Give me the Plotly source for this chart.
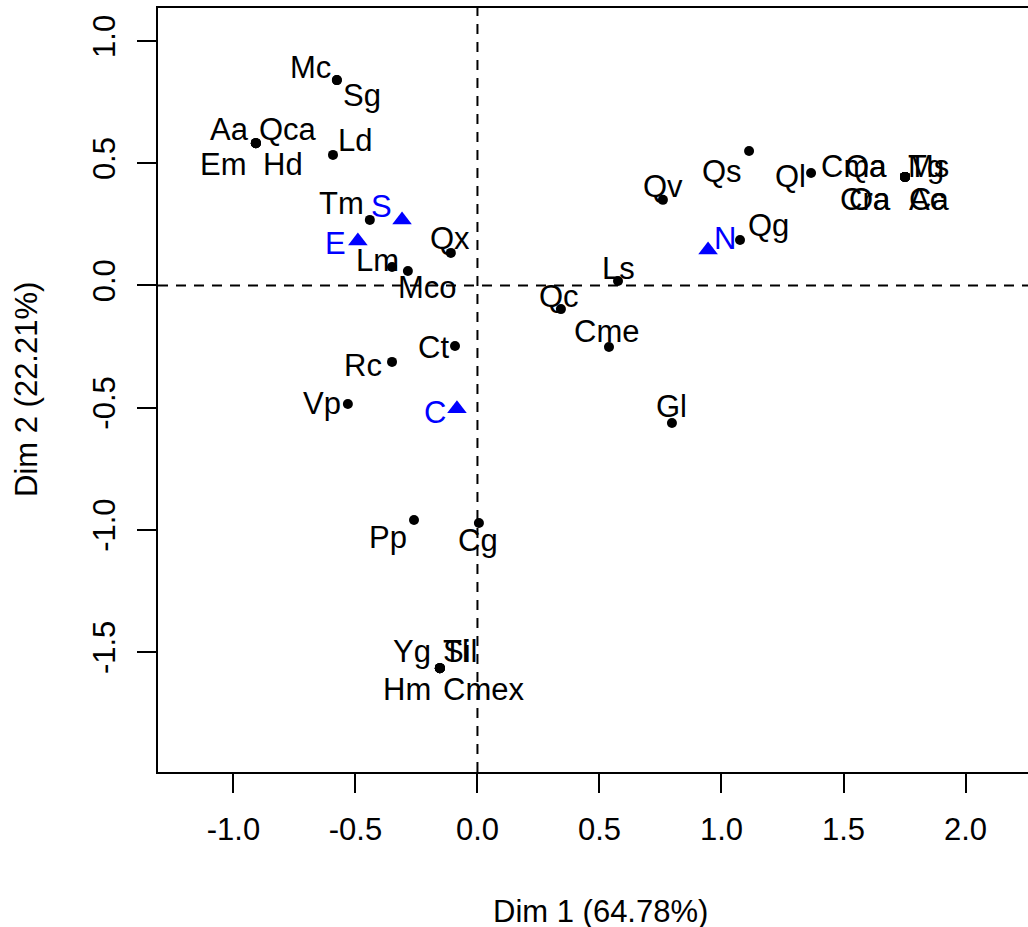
import plotly.graph_objects as go

# ---------------- data ----------------
row_names = ["Mc", "Sg", "Aa", "Qca", "Em", "Hd", "Ld", "Tm", "Qx", "Lm", "Mco",
             "Ct", "Rc", "Vp", "Pp", "Cg", "Yg", "Sil", "Tl", "Hm", "Cmex",
             "Qc", "Cme", "Ls", "Gl", "Qv", "Qs", "Ql", "Qg",
             "Cma", "Qa", "Ms", "Tg", "Cra", "Oa", "Ac", "Ca"]
row_dim1 = [-0.576, -0.576, -0.908, -0.908, -0.908, -0.908, -0.592, -0.441, -0.109, -0.350, -0.285,
            -0.092, -0.350, -0.531, -0.260, 0.006, -0.154, -0.154, -0.154, -0.154, -0.154,
            0.342, 0.539, 0.576, 0.797, 0.760, 1.113, 1.367, 1.076,
            1.752, 1.752, 1.752, 1.752, 1.752, 1.752, 1.752, 1.752]
row_dim2 = [0.840, 0.840, 0.582, 0.582, 0.582, 0.582, 0.534, 0.268, 0.133, 0.075, 0.059,
            -0.248, -0.313, -0.485, -0.960, -0.972, -1.566, -1.566, -1.566, -1.566, -1.566,
            -0.097, -0.252, 0.018, -0.563, 0.350, 0.550, 0.460, 0.186,
            0.444, 0.444, 0.444, 0.444, 0.444, 0.444, 0.444, 0.444]

col_names = ["S", "E", "N", "C"]
col_dim1 = [-0.309, -0.490, 0.945, -0.084]
col_dim2 = [0.268, 0.182, 0.145, -0.505]

x_tick_vals = [-1.0, -0.5, 0.0, 0.5, 1.0, 1.5, 2.0]
x_tick_text = ["-1.0", "-0.5", "0.0", "0.5", "1.0", "1.5", "2.0"]
y_tick_vals = [-1.5, -1.0, -0.5, 0.0, 0.5, 1.0]
y_tick_text = ["-1.5", "-1.0", "-0.5", "0.0", "0.5", "1.0"]
x_title = "Dim 1 (64.78%)"
y_title = "Dim 2 (22.21%)"

# ---------------- style ----------------
FONT = "Liberation Sans, Arial, sans-serif"
FS = 31
BLUE = "#0000FF"
W, H = 1028, 927
L, R, T, B = 158, 0, 8, 155

# label placement around each point: (xanchor, dx px, dy px down)
label_style = {
    "Mc": ("right", -5, -13), "Sg": ("left", 5, 15),
    "Aa": ("right", -6, -14), "Qca": ("left", 2, -14),
    "Em": ("right", -8, 21), "Hd": ("left", 6, 21),
    "Ld": ("left", 4, -14), "Tm": ("right", -5, -16),
    "Qx": ("center", -1, -14), "Lm": ("right", 8, -7),
    "Mco": ("left", -11, 17), "Ct": ("right", -5, 1),
    "Rc": ("right", -9, 4), "Vp": ("right", -6, 0),
    "Pp": ("right", -6, 17), "Cg": ("center", -1, 18),
    "Yg": ("right", -8, -17), "Sil": ("left", 2, -17), "Tl": ("left", 2, -17),
    "Hm": ("right", -8, 21), "Cmex": ("left", 2, 21),
    "Qc": ("center", -2, -13), "Cme": ("center", -2, -15),
    "Ls": ("center", 0, -13), "Gl": ("center", 0, -16),
    "Qv": ("center", 0, -13), "Qs": ("right", -6, 21),
    "Ql": ("right", -4, 4), "Qg": ("left", 7, -14),
    "Cma": ("right", -17, -10), "Qa": ("right", -17, -10),
    "Ms": ("left", 2, -10), "Tg": ("left", 2, -10),
    "Cra": ("right", -13, 23), "Oa": ("right", -13, 23),
    "Ac": ("left", 3, 23), "Ca": ("left", 3, 23),
    "S": ("right", -9, -13), "E": ("right", -11, 3),
    "N": ("left", 5, -11), "C": ("right", -10, 4),
}

fig = go.Figure()
fig.add_trace(go.Scatter(x=row_dim1, y=row_dim2, mode="markers",
                         marker=dict(size=10, color="black"),
                         text=row_names, hoverinfo="text", showlegend=False))
fig.add_trace(go.Scatter(x=col_dim1, y=col_dim2, mode="markers",
                         marker=dict(size=17, color=BLUE, symbol="triangle-up"),
                         text=col_names, hoverinfo="text", showlegend=False))

annotations = []
for names, xs, ys, color in [(row_names, row_dim1, row_dim2, "black"),
                             (col_names, col_dim1, col_dim2, BLUE)]:
    for n, xv, yv in zip(names, xs, ys):
        anc, dx, dy = label_style[n]
        annotations.append(dict(x=xv, y=yv, xref="x", yref="y", text=n,
                                showarrow=False, xanchor=anc, yanchor="middle",
                                xshift=dx, yshift=-dy, borderpad=0,
                                font=dict(family=FONT, size=FS, color=color)))

pw, ph = W - L - R, H - T - B
annotations.append(dict(x=(600 - L) / pw, y=(H - B - 911) / ph, xref="paper", yref="paper",
                        text=x_title, showarrow=False, xanchor="center", yanchor="middle",
                        borderpad=0,
                        font=dict(family=FONT, size=FS, color="black")))
annotations.append(dict(x=(26 - L) / pw, y=(H - B - 390) / ph, xref="paper", yref="paper",
                        text=y_title, showarrow=False, xanchor="center", yanchor="middle",
                        textangle=-90, borderpad=0,
                        font=dict(family=FONT, size=FS, color="black")))

fig.add_hline(y=0, line=dict(color="black", width=2, dash="10px,8px"))
fig.add_vline(x=0, line=dict(color="black", width=2, dash="10px,8px"))

axis_common = dict(showgrid=False, zeroline=False, showline=True, linecolor="black",
                   linewidth=2, ticks="outside", ticklen=19, tickwidth=2, tickcolor="black",
                   tickfont=dict(family=FONT, size=FS, color="black"))
fig.update_xaxes(range=[-1.309, 2.256], tickvals=x_tick_vals, ticktext=x_tick_text,
                 mirror=True, ticklabelstandoff=10, **axis_common)
fig.update_yaxes(range=[-1.991, 1.135], tickvals=y_tick_vals, ticktext=y_tick_text,
                 mirror=False, tickangle=-90, ticklabelstandoff=10, **axis_common)

fig.update_layout(width=W, height=H, margin=dict(l=L, r=R, t=T, b=B, pad=0),
                  paper_bgcolor="white", plot_bgcolor="white",
                  annotations=annotations, font=dict(family=FONT))

fig.write_html("out.html")
